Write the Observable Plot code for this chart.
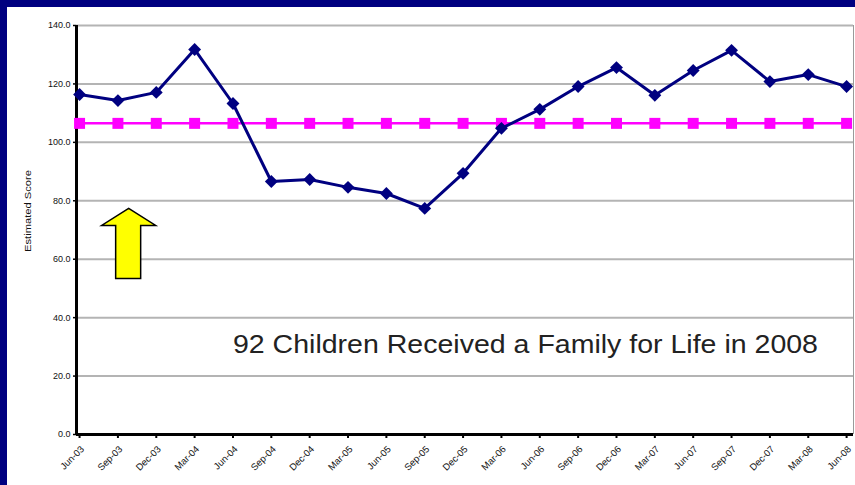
<!DOCTYPE html>
<html>
<head>
<meta charset="utf-8">
<script src="https://cdn.jsdelivr.net/npm/d3@7"></script>
<script src="https://cdn.jsdelivr.net/npm/@observablehq/plot@0.6"></script>
<style>
  html, body { margin: 0; padding: 0; }
  body { width: 855px; height: 485px; background: #000080; position: relative; overflow: hidden; font-family: "Liberation Sans", Arial, sans-serif; }
  #panel { position: absolute; left: 7px; top: 7px; right: 0; bottom: 0; background: #ffffff; }
  #chart { position: absolute; left: 0; top: 0; }
</style>
</head>
<body>
<div id="panel"></div>
<div id="chart"></div>
<script>
const quarters = ["Jun-03","Sep-03","Dec-03","Mar-04","Jun-04","Sep-04","Dec-04","Mar-05","Jun-05","Sep-05","Dec-05","Mar-06","Jun-06","Sep-06","Dec-06","Mar-07","Jun-07","Sep-07","Dec-07","Mar-08","Jun-08"];
const scores = [116.4,114.3,117.1,131.8,113.3,86.6,87.3,84.6,82.5,77.4,89.4,104.8,111.3,119.1,125.6,116.1,124.6,131.5,120.8,123.2,119.1];
const targetValue = 106.5;
const yTicks = [0,20,40,60,80,100,120,140];
const gridTicks = [20,40,60,80,100,120,140];
const yLabel = "Estimated Score";
const annotationText = "92 Children Received a Family for Life in 2008";
const annotationAt = {i: 4, v: 30.8};
const arrowAt = {i: 1.28, v: 65.4};

const series = quarters.map((q, i) => ({i, q, v: scores[i]}));
const target = quarters.map((q, i) => ({i, q, v: targetValue}));

const arrowSymbol = {
  draw(ctx) {
    ctx.moveTo(0, -35);
    ctx.lineTo(27, -18);
    ctx.lineTo(12, -18);
    ctx.lineTo(12, 35);
    ctx.lineTo(-13, 35);
    ctx.lineTo(-13, -18);
    ctx.lineTo(-27, -18);
    ctx.closePath();
  }
};

const chart = Plot.plot({
  width: 855,
  height: 485,
  marginTop: 25,
  marginBottom: 51,
  marginLeft: 76,
  marginRight: 2,
  style: {background: "transparent", fontFamily: "Liberation Sans, Arial, sans-serif", overflow: "visible"},
  x: {type: "linear", domain: [-0.08, 20.18], axis: null},
  y: {domain: [0, 140], axis: null},
  marks: [
    Plot.ruleY(gridTicks, {stroke: "#b4b4b4", strokeWidth: 2}),
    Plot.ruleX([20.18], {stroke: "#9a9a9a", strokeWidth: 1}),
    Plot.axisY({ticks: yTicks, tickFormat: d => d.toFixed(1), tickSize: 3, tickPadding: 3, fontSize: 9, stroke: "#000", strokeWidth: 1.5, fill: "#111", label: null}),
    Plot.ruleX(series, {x: "i", y1: 0, y2: 0, stroke: "#000", strokeWidth: 2, insetBottom: -4}),
    Plot.text(series, {x: "i", y: 0, text: "q", rotate: -45, textAnchor: "end", dx: 3, dy: 13, fontSize: 9.5, fill: "#111"}),
    Plot.text([yLabel], {frameAnchor: "left", dx: -48, dy: 22, rotate: -90, fontSize: 9, fill: "#111"}),
    Plot.ruleX([-0.08], {stroke: "#000", strokeWidth: 3}),
    Plot.ruleY([0], {stroke: "#000", strokeWidth: 3}),
    Plot.line(target, {x: "i", y: "v", stroke: "#ff00ff", strokeWidth: 2.5}),
    Plot.dot(target, {x: "i", y: "v", symbol: "square", r: 6.2, fill: "#ff00ff", stroke: "none"}),
    Plot.line(series, {x: "i", y: "v", stroke: "#000080", strokeWidth: 3}),
    Plot.dot(series, {x: "i", y: "v", symbol: "diamond2", r: 5.8, fill: "#000080", stroke: "none"}),
    Plot.dot([arrowAt], {x: "i", y: "v", symbol: arrowSymbol, fill: "#ffff00", stroke: "#000", strokeWidth: 1.5}),
    Plot.text([annotationText], {x: annotationAt.i, y: annotationAt.v, textAnchor: "start", fontSize: 25.5, fill: "#222"})
  ]
});
d3.select(chart).selectAll("text").each(function() {
  const t = this.textContent;
  if (t === annotationText) {
    d3.select(this).attr("textLength", 585).attr("lengthAdjust", "spacingAndGlyphs");
  } else if (t === yLabel) {
    d3.select(this).attr("textLength", 82).attr("lengthAdjust", "spacingAndGlyphs");
  }
});
document.getElementById("chart").appendChild(chart);
</script>
</body>
</html>
